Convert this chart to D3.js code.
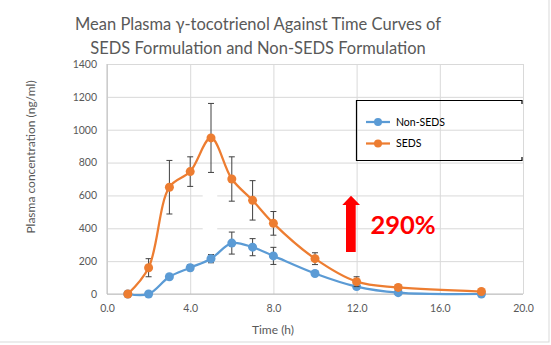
<!DOCTYPE html>
<html>
<head>
<meta charset="utf-8">
<script src="https://cdn.jsdelivr.net/npm/d3@7"></script>
<style>
  body { margin: 0; background: #fff; }
  text { font-family: Lato, "Open Sans", sans-serif; }
</style>
</head>
<body>
<script>
const width = 551;
const height = 345;
const margin = { top: 64, right: 28, bottom: 51, left: 107 };

// sampling times (h) and mean plasma levels (ng/ml) with SD
const tiempos = [1, 2, 3, 4, 5, 6, 7, 8, 10, 12, 14, 18];
const seds = [0, 160, 650, 745, 950, 700, 570, 430, 215, 75, 40, 15];
const sedsSd = [0, 55, 163, 90, 210, 135, 120, 72, 36, 30, 18, 0];
const nonSeds = [0, 0, 105, 160, 215, 310, 285, 232, 125, 45, 8, 0];
const nonSedsSd = [0, 0, 0, 18, 25, 67, 52, 52, 0, 0, 0, 0];
const ticksX = [0, 4, 8, 12, 16, 20];
const ticksY = [0, 200, 400, 600, 800, 1000, 1200, 1400];
const incremento = "290%";

const series = [
  { nombre: "Non-SEDS", color: "#5b9bd5", valores: nonSeds, sd: nonSedsSd },
  { nombre: "SEDS", color: "#ed7d31", valores: seds, sd: sedsSd },
];

const svg = d3
  .select("body")
  .append("svg")
  .attr("width", width)
  .attr("height", height);

svg
  .append("rect")
  .attr("x", -1)
  .attr("y", -1)
  .attr("width", 550)
  .attr("height", 343)
  .attr("fill", "#fff")
  .attr("stroke", "#d9d9d9");

const escalaX = d3
  .scaleLinear()
  .domain([0, 20])
  .range([margin.left, width - margin.right]);

const escalaY = d3
  .scaleLinear()
  .domain([0, 1400])
  .range([height - margin.bottom, margin.top]);

// titulo
svg
  .append("text")
  .attr("x", 258)
  .attr("y", 29.5)
  .attr("text-anchor", "middle")
  .attr("fill", "#595959")
  .attr("font-size", 16.5)
  .selectAll("tspan")
  .data([
    "Mean Plasma γ-tocotrienol Against Time Curves of",
    "SEDS Formulation and Non-SEDS Formulation",
  ])
  .join("tspan")
  .attr("x", 258)
  .attr("dy", (d, i) => (i === 0 ? 0 : 24))
  .text((d) => d);

// rejilla
const ejeY = d3
  .axisLeft(escalaY)
  .tickValues(ticksY)
  .tickSize(-(width - margin.left - margin.right))
  .tickPadding(10)
  .tickFormat(d3.format("d"));

svg
  .append("g")
  .attr("transform", `translate(${margin.left},0)`)
  .call(ejeY)
  .call((g) => g.select(".domain").remove())
  .call((g) => g.selectAll("line").attr("stroke", "#d9d9d9"))
  .call((g) =>
    g.selectAll("text").attr("fill", "#595959").attr("font-size", 10.5)
  );

const ejeX = d3
  .axisBottom(escalaX)
  .tickValues(ticksX)
  .tickSize(-(height - margin.top - margin.bottom))
  .tickPadding(11)
  .tickFormat(d3.format(".1f"));

svg
  .append("g")
  .attr("transform", `translate(0,${height - margin.bottom})`)
  .call(ejeX)
  .call((g) => g.select(".domain").remove())
  .call((g) => g.selectAll("line").attr("stroke", "#d9d9d9"))
  .call((g) =>
    g.selectAll("text").attr("fill", "#595959").attr("font-size", 10.5)
  );

// lineas de los ejes
svg
  .append("line")
  .attr("x1", margin.left)
  .attr("x2", width - margin.right)
  .attr("y1", escalaY(0))
  .attr("y2", escalaY(0))
  .attr("stroke", "#bfbfbf");
svg
  .append("line")
  .attr("x1", margin.left)
  .attr("x2", margin.left)
  .attr("y1", escalaY(0))
  .attr("y2", escalaY(1400))
  .attr("stroke", "#bfbfbf");

// parche blanco sobre la rejilla
svg
  .append("rect")
  .attr("x", escalaX(4.6))
  .attr("y", escalaY(740))
  .attr("width", escalaX(5.3) - escalaX(4.6))
  .attr("height", escalaY(330) - escalaY(740))
  .attr("fill", "#fff");

// titulos de ejes
svg
  .append("text")
  .attr("x", 273)
  .attr("y", 334)
  .attr("text-anchor", "middle")
  .attr("fill", "#595959")
  .attr("font-size", 12)
  .text("Time (h)");

svg
  .append("text")
  .attr("transform", "translate(35,157) rotate(-90)")
  .attr("text-anchor", "middle")
  .attr("fill", "#595959")
  .attr("font-size", 12)
  .text("Plasma concentration (ng/ml)");

const linea = d3
  .line()
  .x((d) => escalaX(d[0]))
  .y((d) => escalaY(d[1]))
  .curve(d3.curveCatmullRom);

series.forEach((s) => {
  const puntos = tiempos.map((t, i) => [t, s.valores[i], s.sd[i]]);
  const g = svg.append("g");

  // barras de error
  const barras = g
    .selectAll("g.error")
    .data(puntos.filter((d) => d[2] > 0))
    .join("g")
    .attr("class", "error")
    .attr("stroke", "#404040")
    .attr("stroke-width", 1);
  barras
    .append("line")
    .attr("x1", (d) => escalaX(d[0]))
    .attr("x2", (d) => escalaX(d[0]))
    .attr("y1", (d) => escalaY(d[1] + d[2]))
    .attr("y2", (d) => escalaY(d[1] - d[2]));
  [1, -1].forEach((signo) => {
    barras
      .append("line")
      .attr("x1", (d) => escalaX(d[0]) - 3)
      .attr("x2", (d) => escalaX(d[0]) + 3)
      .attr("y1", (d) => escalaY(d[1] + signo * d[2]))
      .attr("y2", (d) => escalaY(d[1] + signo * d[2]));
  });

  g.append("path")
    .datum(puntos)
    .attr("fill", "none")
    .attr("stroke", s.color)
    .attr("stroke-width", 2.25)
    .attr("d", linea);

  g.selectAll("circle")
    .data(puntos)
    .join("circle")
    .attr("cx", (d) => escalaX(d[0]))
    .attr("cy", (d) => escalaY(d[1]))
    .attr("r", 4.5)
    .attr("fill", s.color);
});

// leyenda
const leyenda = svg.append("g");
leyenda
  .append("path")
  .attr("d", "M522,104 V100.5 H356.5 V160.5 H522 V157")
  .attr("fill", "none")
  .attr("stroke", "#000")
  .attr("stroke-width", 1.2);

leyenda
  .selectAll("g.item")
  .data(series)
  .join("g")
  .attr("class", "item")
  .attr("transform", (d, i) => `translate(366,${122 + i * 21.5})`)
  .each(function (d) {
    const item = d3.select(this);
    item
      .append("line")
      .attr("x1", 0)
      .attr("x2", 24)
      .attr("stroke", d.color)
      .attr("stroke-width", 2.25);
    item.append("circle").attr("cx", 12).attr("r", 4).attr("fill", d.color);
    item
      .append("text")
      .attr("x", 30)
      .attr("dy", "0.35em")
      .attr("font-size", 10.5)
      .attr("fill", "#000")
      .text(d.nombre);
  });

// flecha y porcentaje
svg
  .append("path")
  .attr("d", "M346,252 V205 H342.3 L351,195.7 L360,205 H355.7 V252 Z")
  .attr("fill", "#ff0000");

svg
  .append("text")
  .attr("x", 370.5)
  .attr("y", 233.5)
  .attr("font-size", 25.5)
  .attr("font-weight", "bold")
  .attr("fill", "#ff0000")
  .text(incremento);
</script>
</body>
</html>
